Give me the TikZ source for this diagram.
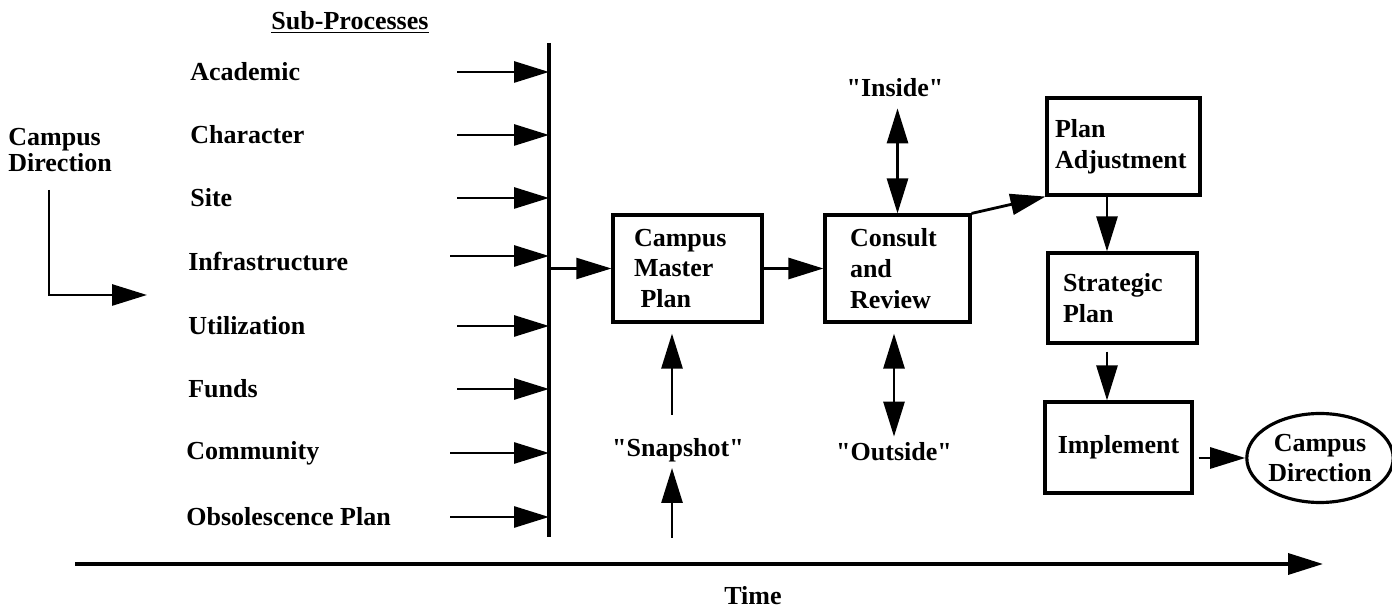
\documentclass[tikz,border=0pt]{standalone}
\usepackage{fontspec}
\setmainfont{Liberation Serif}[Ligatures=TeXOff]
\usetikzlibrary{arrows.meta,shapes.geometric}
\def\bigtext{\fontsize{14.8}{17.6}\selectfont\bfseries}
\tikzset{
	arr/.style={line width=1.6pt, -{Triangle[length=7mm,width=4.2mm]}},
	dblarr/.style={line width=1.6pt, {Triangle[length=7mm,width=4.2mm]}-{Triangle[length=7mm,width=4.2mm]}},
	stage/.style={draw, line width=1.8pt, align=left, inner ysep=0pt},
	lbl/.style={anchor=west, inner sep=0pt}
}

\begin{document}
\begin{tikzpicture}[every node/.style={font=\bigtext}]
			%%%%% START %%%%%
			\useasboundingbox (0,0) rectangle (27.84,12.22);
			
			\node[lbl, align=left, font=\fontsize{14.8}{14.8}\selectfont\bfseries] (campusL) at (0.16,9.22) {Campus\\Direction};
			\coordinate (lTop) at (0.98,8.42);
			\coordinate (lEnd) at (2.94,6.32);
			\draw[arr] (lTop) |- (lEnd);
			
			\node (subproc) at (7.0,11.78) {\underline{Sub-Processes}};
			\node[lbl] (academic) at (3.8,10.78) {Academic};
			\node[lbl] (character) at (3.8,9.52) {Character};
			\node[lbl] (site) at (3.8,8.26) {Site};
			\node[lbl] (infra) at (3.76,6.98) {Infrastructure};
			\node[lbl] (utilization) at (3.76,5.70) {Utilization};
			\node[lbl] (funds) at (3.76,4.44) {Funds};
			\node[lbl] (community) at (3.72,3.16) {Community};
			\node[lbl] (obsolescence) at (3.72,1.88) {Obsolescence Plan};
			
			\coordinate (barTop) at (10.98,11.36);
			\coordinate (barBot) at (10.98,1.48);
			\draw[line width=2.2pt] (barTop) -- (barBot);
			
			\coordinate (inA) at (9.14,0);
			\coordinate (inB) at (9.0,0);
			\draw[arr] (inA |- academic) -- (barTop |- academic);
			\draw[arr] (inA |- character) -- (barTop |- character);
			\draw[arr] (inA |- site) -- (barTop |- site);
			\draw[arr] ([yshift=1.2mm]inB |- infra) -- ([yshift=1.2mm]barTop |- infra);
			\draw[arr] (inA |- utilization) -- (barTop |- utilization);
			\draw[arr] (inA |- funds) -- (barTop |- funds);
			\draw[arr] (inB |- community) -- (barTop |- community);
			\draw[arr] (inB |- obsolescence) -- (barTop |- obsolescence);
			
			\node[stage, minimum width=2.98cm, minimum height=2.14cm, inner xsep=0.42cm, text width=2.14cm] (cmp) at (13.75,6.85) {Campus\\Master\\\hspace*{0.25em}Plan};
			\node[stage, minimum width=2.9cm, minimum height=2.14cm, inner xsep=0.5cm, text width=1.9cm] (consult) at (17.95,6.85) {Consult\\and\\Review};
			\draw[arr, line width=1.2pt] (barTop |- cmp.west) -- (cmp.west);
			\draw[arr] (cmp.east) -- (consult.west);
			
			\node (inside) at (17.9,10.46) {"Inside"};
			\node (outside) at (17.88,3.18) {"Outside"};
			\draw[dblarr, shorten <=0.1cm] (inside.south -| consult.north) -- (consult.north);
			\draw[dblarr, shorten >=0.2cm] (outside.north) -- (outside.north |- consult.south);
			
			\node (snapshot) at (13.56,3.22) {"Snapshot"};
			\coordinate (snapBase) at (13.44,1.46);
			\draw[arr] (snapBase) -- (snapBase |- snapshot.south);
			\draw[arr, shorten <=0.34cm, shorten >=0.2cm] (snapBase |- snapshot.north) -- (snapBase |- cmp.south);
			
			\node[stage, minimum width=3.06cm, minimum height=1.94cm, inner xsep=0.16cm, text width=2.74cm] (pa) at (22.47,9.29) {Plan\\Adjustment};
			\node[stage, minimum width=2.98cm, minimum height=1.8cm, inner xsep=0.3cm, text width=2.38cm] (sp) at (22.45,6.26) {Strategic\\Plan};
			\node[stage, align=center, minimum width=2.94cm, minimum height=1.82cm] (implement) at (22.37,3.27) {Implement};
			\node[draw, ellipse, line width=1.8pt, minimum width=2.88cm, minimum height=1.78cm, inner sep=0pt, align=center] (cdR) at (26.4,3.06) {Campus\\Direction};
			
			\draw[arr] (consult.north east) -- (pa.south west);
			\coordinate (downX) at (22.14,0);
			\draw[arr] (downX |- pa.south) -- (downX |- sp.north);
			\draw[arr, shorten <=0.14cm] (downX |- sp.south) -- (downX |- implement.north);
			\draw[arr, shorten <=0.1cm] (implement.east |- cdR.west) -- (cdR.west);
			
			\coordinate (tStart) at (1.5,0.94);
			\coordinate (tEnd) at (26.46,0.94);
			\draw[arr, line width=2pt] (tStart) -- (tEnd);
			\node (time) at (15.06,0.3) {Time};
			%%%%% END %%%%%
\end{tikzpicture}
\end{document}
